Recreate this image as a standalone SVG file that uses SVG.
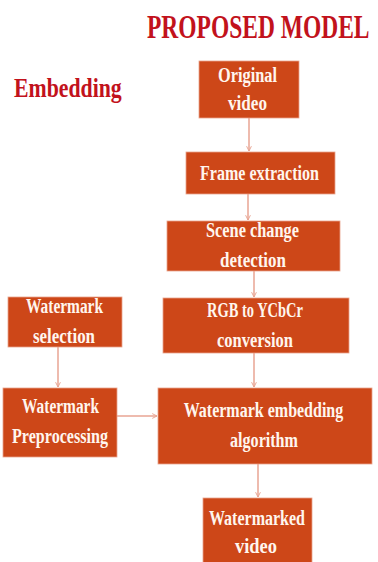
<svg xmlns="http://www.w3.org/2000/svg" width="378" height="562" viewBox="0 0 378 562">
  <style>
    .box { fill: #cd4718; stroke: #e9a48c; stroke-width: 0.8; }
    .lbl { font-family: "Liberation Serif", "DejaVu Serif", serif; font-weight: bold; font-size: 20px; fill: #fff6ee; text-anchor: middle; }
    .head { font-family: "Liberation Serif", "DejaVu Serif", serif; font-weight: bold; fill: #c2121c; }
    .conn { stroke: #e8a593; stroke-width: 1.5; fill: none; marker-end: url(#tip); }
  </style>
  <defs>
    <marker id="tip" viewBox="0 0 10 10" refX="9" refY="5" markerWidth="6" markerHeight="6" orient="auto" markerUnits="userSpaceOnUse">
      <path d="M1,1 L9,5 L1,9" fill="none" stroke="#e8a593" stroke-width="1.6"/>
    </marker>
  </defs>

  <rect width="378" height="562" fill="#ffffff"/>

  <!-- headings: narrow, tall lettering via vertical stretch -->
  <text class="head" transform="translate(147,38) scale(1,1.4)" x="0" y="0" font-size="23.5">PROPOSED MODEL</text>
  <text class="head" transform="translate(14,97) scale(1,1.3)" x="0" y="0" font-size="21.8">Embedding</text>

  <g id="connectors">
    <line class="conn" x1="249" y1="118" x2="249" y2="151"/>
    <line class="conn" x1="248" y1="194" x2="248" y2="220"/>
    <line class="conn" x1="254" y1="271" x2="254" y2="297"/>
    <line class="conn" x1="58" y1="347" x2="58" y2="387"/>
    <line class="conn" x1="254" y1="353" x2="254" y2="387"/>
    <line class="conn" x1="117" y1="416" x2="157" y2="416"/>
    <line class="conn" x1="258" y1="464" x2="258" y2="497"/>
  </g>

  <g id="original-video">
    <rect class="box" x="199" y="61" width="100" height="57"/>
    <text class="lbl" x="247.5" y="82" textLength="59" lengthAdjust="spacingAndGlyphs">Original</text>
    <text class="lbl" x="247.5" y="110" textLength="39" lengthAdjust="spacingAndGlyphs">video</text>
  </g>

  <g id="frame-extraction">
    <rect class="box" x="186" y="152" width="149" height="42"/>
    <text class="lbl" x="259.5" y="180" textLength="119" lengthAdjust="spacingAndGlyphs">Frame extraction</text>
  </g>

  <g id="scene-change">
    <rect class="box" x="167" y="221" width="173" height="50"/>
    <text class="lbl" x="252.5" y="237" textLength="93" lengthAdjust="spacingAndGlyphs">Scene change</text>
    <text class="lbl" x="253" y="267" textLength="66" lengthAdjust="spacingAndGlyphs">detection</text>
  </g>

  <g id="rgb-ycbcr">
    <rect class="box" x="163" y="298" width="186" height="55"/>
    <text class="lbl" x="255" y="317" textLength="96" lengthAdjust="spacingAndGlyphs">RGB to YCbCr</text>
    <text class="lbl" x="255" y="347" textLength="76" lengthAdjust="spacingAndGlyphs">conversion</text>
  </g>

  <g id="watermark-selection">
    <rect class="box" x="8" y="297" width="114" height="50"/>
    <text class="lbl" x="64.5" y="313" textLength="77" lengthAdjust="spacingAndGlyphs">Watermark</text>
    <text class="lbl" x="64" y="343" textLength="62" lengthAdjust="spacingAndGlyphs">selection</text>
  </g>

  <g id="watermark-preprocessing">
    <rect class="box" x="3" y="388" width="114" height="69"/>
    <text class="lbl" x="60.5" y="413" textLength="77" lengthAdjust="spacingAndGlyphs">Watermark</text>
    <text class="lbl" x="60" y="443" textLength="96" lengthAdjust="spacingAndGlyphs">Preprocessing</text>
  </g>

  <g id="embedding-algorithm">
    <rect class="box" x="158" y="388" width="214" height="76"/>
    <text class="lbl" transform="translate(263.5,417) scale(1,1.25)" x="0" y="0" style="font-size:16px">Watermark embedding</text>
    <text class="lbl" x="264" y="447" textLength="68" lengthAdjust="spacingAndGlyphs">algorithm</text>
  </g>

  <g id="watermarked-video">
    <rect class="box" x="203" y="498" width="109" height="70"/>
    <text class="lbl" x="257" y="525" textLength="96" lengthAdjust="spacingAndGlyphs">Watermarked</text>
    <text class="lbl" x="256" y="553" textLength="42" lengthAdjust="spacingAndGlyphs">video</text>
  </g>
</svg>
